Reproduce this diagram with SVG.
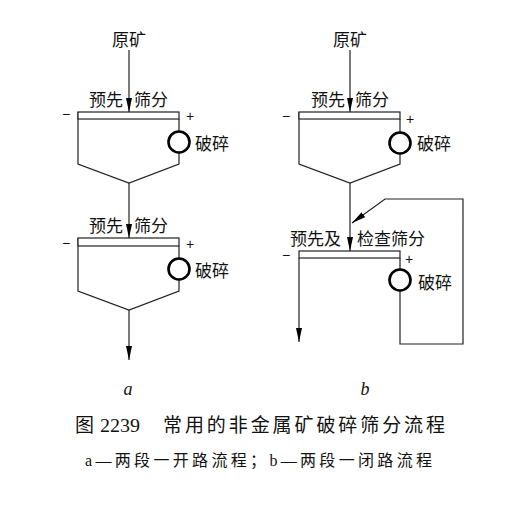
<svg xmlns="http://www.w3.org/2000/svg" width="531" height="509" viewBox="0 0 531 509">
<defs>
<style>
.ln{fill:none;stroke:#222;stroke-width:1.2}
.scr{fill:#fff;stroke:#222;stroke-width:1.2}
.crs{fill:#fff;stroke:#000;stroke-width:2.6}
.lb{font-family:"Noto Sans CJK SC","Noto Sans",sans-serif;font-size:17px;fill:#111}
.sg{font-family:"Liberation Sans",sans-serif;font-size:14px;fill:#111}
.it{font-family:"Liberation Serif",serif;font-style:italic;font-size:18px;fill:#111}
.cap{font-family:"Liberation Serif","Noto Sans CJK SC",serif;font-size:19px;fill:#111}
.cap2{font-family:"Liberation Serif","Noto Sans CJK SC",serif;font-size:16px;fill:#111}
</style>
<marker id="ah" markerUnits="userSpaceOnUse" markerWidth="15" markerHeight="6" refX="14" refY="3" orient="auto">
<path d="M0,0 L14,3 L0,6 z" fill="#000"/>
</marker>
</defs>

<g id="connectors">
<line class="ln" x1="129" y1="50" x2="129" y2="112" marker-end="url(#ah)"/>
<line class="ln" x1="129" y1="183" x2="129" y2="238" marker-end="url(#ah)"/>
<line class="ln" x1="129" y1="310" x2="129" y2="360" marker-end="url(#ah)"/>
<line class="ln" x1="350" y1="50" x2="350" y2="112" marker-end="url(#ah)"/>
<line class="ln" x1="350" y1="183" x2="350" y2="251" marker-end="url(#ah)"/>
<line class="ln" x1="299" y1="258" x2="299" y2="342" marker-end="url(#ah)"/>
<polyline class="ln" points="400,291 400,344 463,344 463,199 385,199 352,223" marker-end="url(#ah)"/>
</g>

<g id="feed-a">
<text class="lb" x="129" y="46" text-anchor="middle">原矿</text>
</g>
<g id="feed-b">
<text class="lb" x="350" y="46" text-anchor="middle">原矿</text>
</g>

<g id="screen-a1">
<text class="lb" x="89" y="106">预先</text>
<text class="lb" x="134" y="106">筛分</text>
<text class="sg" x="62" y="119">−</text>
<text class="sg" x="186" y="121">+</text>
<polyline class="ln" points="78,112 78,164 129,183 179,164 179,119"/>
<rect class="scr" x="78" y="112" width="101" height="7"/>
</g>
<g id="crusher-a1">
<circle class="crs" cx="179" cy="142" r="10.5"/>
<text class="lb" x="195" y="150">破碎</text>
</g>

<g id="screen-a2">
<text class="lb" x="89" y="232">预先</text>
<text class="lb" x="134" y="232">筛分</text>
<text class="sg" x="62" y="248">−</text>
<text class="sg" x="186" y="249">+</text>
<polyline class="ln" points="78,238 78,291 129,310 179,291 179,246"/>
<rect class="scr" x="78" y="238" width="101" height="8"/>
</g>
<g id="crusher-a2">
<circle class="crs" cx="179" cy="269" r="10.5"/>
<text class="lb" x="195" y="277">破碎</text>
</g>

<g id="screen-b1">
<text class="lb" x="311" y="106">预先</text>
<text class="lb" x="355" y="106">筛分</text>
<text class="sg" x="282" y="121">−</text>
<text class="sg" x="406" y="124">+</text>
<polyline class="ln" points="299,112 299,164 350,183 400,164 400,119"/>
<rect class="scr" x="299" y="112" width="101" height="7"/>
</g>
<g id="crusher-b1">
<circle class="crs" cx="400" cy="143" r="10.5"/>
<text class="lb" x="417" y="150">破碎</text>
</g>

<g id="screen-b2">
<text class="lb" x="290" y="245">预先及</text>
<text class="lb" x="357" y="245">检查筛分</text>
<text class="sg" x="282" y="260">−</text>
<text class="sg" x="405" y="264">+</text>
<line class="ln" x1="400" y1="258" x2="400" y2="270"/>
<rect class="scr" x="299" y="251" width="101" height="7"/>
</g>
<g id="crusher-b2">
<circle class="crs" cx="400" cy="280" r="10.5"/>
<text class="lb" x="418" y="289">破碎</text>
</g>

<g id="labels">
<text class="it" x="128" y="395" text-anchor="middle">a</text>
<text class="it" x="365" y="395" text-anchor="middle">b</text>
<text class="cap" x="75" y="432">图</text>
<text class="cap" x="100" y="432" textLength="40" lengthAdjust="spacingAndGlyphs">2239</text>
<text class="cap" x="163" y="432" textLength="282" lengthAdjust="spacing">常用的非金属矿破碎筛分流程</text>
<text class="cap2" x="85" y="466" textLength="347" lengthAdjust="spacing">a—两段一开路流程；b—两段一闭路流程</text>
</g>
</svg>
